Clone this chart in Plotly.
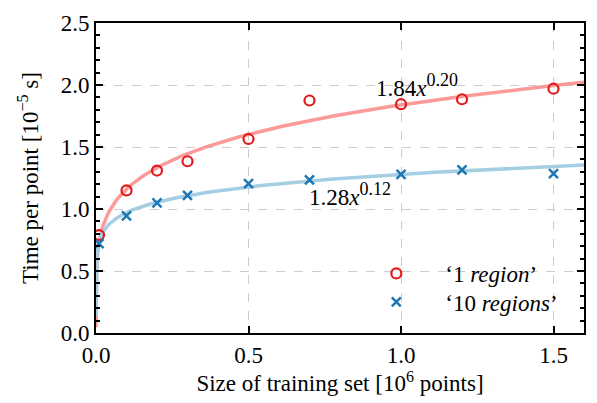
import numpy as np
import plotly.graph_objects as go

# Data
train_size = [0.01, 0.1, 0.2, 0.3, 0.5, 0.7, 1.0, 1.2, 1.5]
time_1_region = [0.79, 1.15, 1.31, 1.385, 1.565, 1.875, 1.845, 1.885, 1.97]
time_10_regions = [0.72, 0.945, 1.05, 1.11, 1.205, 1.235, 1.28, 1.315, 1.285]

# Power-law fits shown in the chart: a * x^b
fit_1_region = (1.84, 0.20)
fit_10_regions = (1.28, 0.12)

x_ticks = [0.0, 0.5, 1.0, 1.5]
y_ticks = [0.0, 0.5, 1.0, 1.5, 2.0, 2.5]

RED = "#e31a1c"
LIGHT_RED = "#fb9a99"
BLUE = "#1f78b4"
LIGHT_BLUE = "#a6cee3"
FONT = "Liberation Serif"
FS = 23

x_fit = np.concatenate([np.geomspace(1e-8, 0.05, 200), np.linspace(0.05, 1.6, 200)])

fig = go.Figure()
fig.add_trace(go.Scatter(x=x_fit, y=fit_1_region[0] * x_fit ** fit_1_region[1], mode="lines",
                         line=dict(color=LIGHT_RED, width=3.5), showlegend=False, hoverinfo="skip"))
fig.add_trace(go.Scatter(x=x_fit, y=fit_10_regions[0] * x_fit ** fit_10_regions[1], mode="lines",
                         line=dict(color=LIGHT_BLUE, width=3.5), showlegend=False, hoverinfo="skip"))
fig.add_trace(go.Scatter(x=train_size, y=time_1_region, mode="markers",
                         name="\u20181 <i>region</i>\u2019", legend="legend",
                         marker=dict(symbol="circle-open", size=10, color=RED, line=dict(width=2.2, color=RED))))
fig.add_trace(go.Scatter(x=train_size, y=time_10_regions, mode="markers",
                         name="\u201810 <i>regions</i>\u2019", legend="legend2",
                         marker=dict(symbol="x-thin-open", size=9, color=BLUE, line=dict(width=2.5, color=BLUE))))

sup_style = '<sup><span style="font-size:18px">{}</span></sup>'
fig.add_annotation(x=1.052, y=2.0, xref="x", yref="y",
                   text="1.84<i>x</i>" + sup_style.format("0.20"), showarrow=False,
                   font=dict(family=FONT, size=FS, color="black"))
fig.add_annotation(x=0.833, y=1.12, xref="x", yref="y",
                   text="1.28<i>x</i>" + sup_style.format("0.12"), showarrow=False,
                   font=dict(family=FONT, size=FS, color="black"))

axis_common = dict(
    showline=True, linecolor="black", linewidth=2, mirror="ticks",
    ticks="inside", ticklen=7, tickwidth=2, tickcolor="black",
    showgrid=True, gridcolor="#cccccc", griddash="dash", gridwidth=1,
    zeroline=False, tickformat=".1f",
    tickfont=dict(family=FONT, size=FS, color="black"),
)

fig.update_xaxes(range=[0, 1.6], tickvals=x_ticks, **axis_common,
                 title=dict(text="Size of training set [10<sup>6</sup> points]",
                            font=dict(family=FONT, size=FS, color="black"), standoff=8))
fig.update_yaxes(range=[0, 2.5], tickvals=y_ticks, **axis_common,
                 minor=dict(dtick=0.1, ticks="inside", ticklen=4, tickwidth=1.5, tickcolor="black", showgrid=False),
                 title=dict(text="Time per point [10<sup>\u22125</sup> s]",
                            font=dict(family=FONT, size=FS, color="black"), standoff=16))

legend_common = dict(xanchor="left", yanchor="middle", bgcolor="rgba(0,0,0,0)",
                     itemwidth=88, font=dict(family=FONT, size=FS, color="black"))

fig.update_layout(
    width=597, height=403,
    margin=dict(l=96, r=11, t=16, b=69),
    plot_bgcolor="white", paper_bgcolor="white",
    font=dict(family=FONT, size=FS, color="black"),
    legend=dict(x=0.515, y=0.192, **legend_common),
    legend2=dict(x=0.515, y=0.10, **legend_common),
)

fig.write_html("out.html")
